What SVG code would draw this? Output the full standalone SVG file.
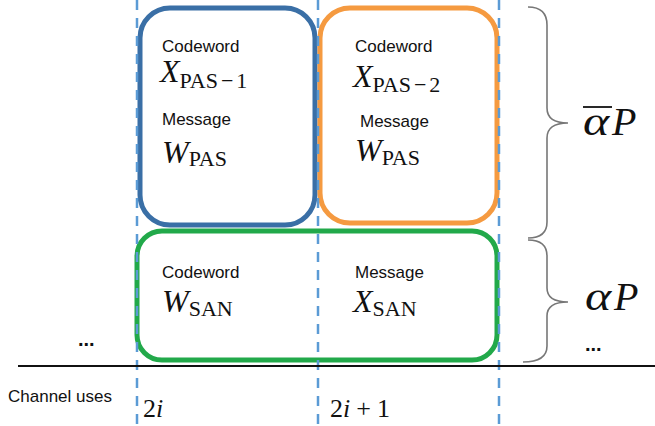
<svg xmlns="http://www.w3.org/2000/svg" width="655" height="426" viewBox="0 0 655 426">
<style>
.dash{stroke:#5b9bd5;stroke-width:2.5;stroke-dasharray:10 8;fill:none}
.box{fill:#fff;stroke-width:5}
.lbl{font-family:"Liberation Sans",Arial,sans-serif;font-size:17px;fill:#111}
.math{font-family:"Liberation Serif","Times New Roman",serif;font-size:32px;fill:#111}
.it{font-style:italic}
.sub{font-size:22px}
.brace{fill:none;stroke:#777;stroke-width:1.6}
.dots{font-family:"Liberation Sans",Arial,sans-serif;font-size:20px;font-weight:bold;fill:#111}
</style>
<rect width="655" height="426" fill="#fff"/>
<g id="blue-box">
<rect class="box" x="140" y="8" width="175" height="217" rx="30" stroke="#3a6fa6"/>
<text class="lbl" x="162" y="52">Codeword</text>
<text class="math" x="160" y="82"><tspan class="it">X</tspan><tspan class="sub" dy="6">PAS</tspan><tspan class="sub" dx="3">−</tspan><tspan class="sub" dx="3">1</tspan></text>
<text class="lbl" x="162" y="125">Message</text>
<text class="math" x="162" y="163"><tspan class="it">W</tspan><tspan class="sub" dy="3">PAS</tspan></text>
</g>
<g id="orange-box">
<rect class="box" x="320" y="8" width="177" height="215" rx="30" stroke="#f59a40"/>
<text class="lbl" x="355" y="52">Codeword</text>
<text class="math" x="353" y="87"><tspan class="it">X</tspan><tspan class="sub" dy="5">PAS</tspan><tspan class="sub" dx="3">−</tspan><tspan class="sub" dx="3">2</tspan></text>
<text class="lbl" x="360" y="127">Message</text>
<text class="math" x="355" y="161"><tspan class="it">W</tspan><tspan class="sub" dy="4">PAS</tspan></text>
</g>
<g id="green-box">
<rect class="box" x="137" y="231" width="360" height="129" rx="25" stroke="#22a94a"/>
<text class="lbl" x="162" y="278">Codeword</text>
<text class="math" x="162" y="312"><tspan class="it">W</tspan><tspan class="sub" dy="4">SAN</tspan></text>
<text class="lbl" x="355" y="278">Message</text>
<text class="math" x="353" y="312"><tspan class="it">X</tspan><tspan class="sub" dy="4">SAN</tspan></text>
</g>
<g id="connectors">
<line class="dash" x1="137" y1="0" x2="137" y2="426"/>
<line class="dash" x1="318" y1="0" x2="318" y2="426"/>
<line class="dash" x1="499" y1="0" x2="499" y2="426"/>
<line x1="18" y1="366" x2="655" y2="366" stroke="#111" stroke-width="2"/>
<path class="brace" d="M528,7 Q547,7 547,25 L547,108 Q547,123 568,123 Q547,123 547,138 L547,222 Q547,238 528,238"/>
<path class="brace" d="M528,240 Q547,240 547,256 L547,288 Q547,302 568,302 Q547,302 547,316 L547,346 Q547,362 523,362"/>
</g>
<g id="labels">
<text class="math it" transform="translate(583,135) scale(1.25,1)" style="font-size:40px">α</text>
<text class="math it" x="612" y="135" style="font-size:40px">P</text>
<line x1="583" y1="107" x2="612" y2="107" stroke="#111" stroke-width="1.8"/>
<text class="math it" transform="translate(585,310) scale(1.25,1)" style="font-size:40px">α</text>
<text class="math it" x="614" y="310" style="font-size:40px">P</text>
<text class="dots" x="78" y="346">...</text>
<text class="dots" x="585" y="351">...</text>
<text class="lbl" x="8" y="402">Channel uses</text>
<text class="math" x="143" y="417" style="font-size:26px">2<tspan class="it">i</tspan></text>
<text class="math" x="330" y="417" style="font-size:26px">2<tspan class="it">i</tspan><tspan dx="6">+</tspan><tspan dx="6">1</tspan></text>
</g>
</svg>
